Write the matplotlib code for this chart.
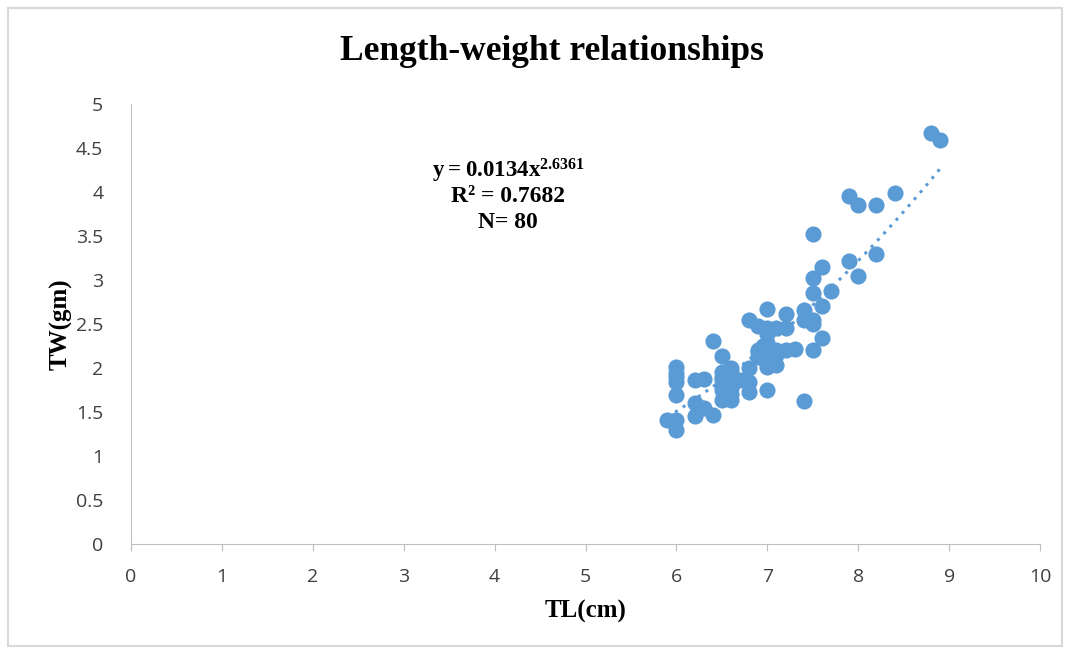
import matplotlib.pyplot as plt
import matplotlib.patches as patches
import numpy as np

# datos
tl = [8.8, 8.9, 7.9, 8.0, 8.2, 8.4, 7.5, 8.2, 7.9, 7.6,
      8.0, 7.5, 7.7, 7.5, 7.6, 7.4, 7.2, 7.0, 7.4, 7.5,
      7.5, 6.8, 6.9, 7.1, 7.2, 7.0, 7.6, 6.4, 7.0, 6.9,
      7.1, 7.2, 7.3, 7.5, 6.5, 7.0, 6.9, 7.05, 6.0, 6.6,
      6.8, 7.0, 7.1, 6.5, 6.0, 6.0, 6.2, 6.3, 6.5, 6.55,
      6.7, 6.8, 6.5, 6.6, 6.8, 7.0, 6.0, 6.5, 6.6, 7.4,
      6.2, 6.25, 6.3, 6.2, 6.4, 5.9, 6.0, 6.0, 7.0, 7.0,
      6.9, 7.1, 6.6, 6.5, 6.6, 7.0, 7.0, 6.95, 6.0, 6.5]
tw = [4.67, 4.59, 3.96, 3.85, 3.85, 3.99, 3.52, 3.30, 3.22, 3.15,
      3.05, 3.02, 2.87, 2.85, 2.70, 2.66, 2.61, 2.67, 2.55, 2.55,
      2.50, 2.54, 2.48, 2.45, 2.45, 2.39, 2.34, 2.31, 2.28, 2.21,
      2.21, 2.21, 2.22, 2.20, 2.14, 2.17, 2.13, 2.11, 2.01, 2.00,
      2.00, 2.01, 2.03, 1.96, 1.94, 1.84, 1.86, 1.88, 1.86, 1.86,
      1.86, 1.84, 1.75, 1.77, 1.73, 1.75, 1.69, 1.64, 1.64, 1.63,
      1.60, 1.56, 1.54, 1.45, 1.47, 1.41, 1.41, 1.30, 2.10, 2.22,
      2.18, 2.15, 1.95, 1.80, 1.70, 2.05, 2.45, 2.25, 1.90, 1.90]

# linea de tendencia potencial y = a*x^b
a, b = 0.0134, 2.6361
x_min, x_max = 5.9, 8.9

azul = '#5B9BD5'

plt.rcParams['mathtext.fontset'] = 'custom'
plt.rcParams['mathtext.bf'] = 'Liberation Serif:bold'
plt.rcParams['mathtext.rm'] = 'Liberation Serif:bold'

fig = plt.figure(figsize=(10.68, 6.54), dpi=100)
# marco gris del grafico
fig.patches.append(patches.Rectangle((8/1068, 8/654), 1054/1068, 638/654,
                                     transform=fig.transFigure, fill=False,
                                     edgecolor='#D9D9D9', linewidth=1.5))

ax = fig.add_axes([0.1227, 0.1682, 0.8511, 0.6728])
ax.scatter(tl, tw, s=135, color=azul, zorder=3, linewidths=0)

xs = np.linspace(x_min, x_max, 60)
ax.plot(xs, a * xs ** b, linestyle=(0, (1, 2)), color=azul, linewidth=2.2, zorder=2)

ax.set_xlim(0, 10)
ax.set_ylim(0, 5)
ax.set_xticks(range(0, 11))
ax.set_yticks(np.arange(0, 5.01, 0.5))
ax.set_yticklabels(['0', '0.5', '1', '1.5', '2', '2.5', '3', '3.5', '4', '4.5', '5'])

for s in ['top', 'right']:
    ax.spines[s].set_visible(False)
for s in ['left', 'bottom']:
    ax.spines[s].set_color('#BFBFBF')
ax.tick_params(axis='x', length=5, color='#BFBFBF', labelsize=14, labelcolor='#404040', pad=12)
ax.tick_params(axis='y', length=0, labelsize=14, labelcolor='#404040', pad=20)
for lab in ax.get_xticklabels() + ax.get_yticklabels():
    lab.set_family('Open Sans')

ax.set_xlabel('TL(cm)', family='Liberation Serif', fontweight='bold', fontsize=18, labelpad=10)
ax.set_ylabel('TW(gm)', family='Liberation Serif', fontweight='bold', fontsize=18, labelpad=2)

fig.text(0.517, 0.922, 'Length-weight relationships', family='Liberation Serif',
         fontweight='bold', fontsize=25.5, ha='center', va='center')

ax.text(4.15, 4.24, r'$\mathbf{y = 0.0134x^{2.6361}}$', fontsize=16.5, ha='center', va='center')
ax.text(4.15, 3.95, 'R² = 0.7682', family='Liberation Serif', fontweight='bold',
        fontsize=17, ha='center', va='center')
ax.text(4.15, 3.65, 'N= 80', family='Liberation Serif', fontweight='bold',
        fontsize=17, ha='center', va='center')

plt.savefig('out.png', dpi=100)
